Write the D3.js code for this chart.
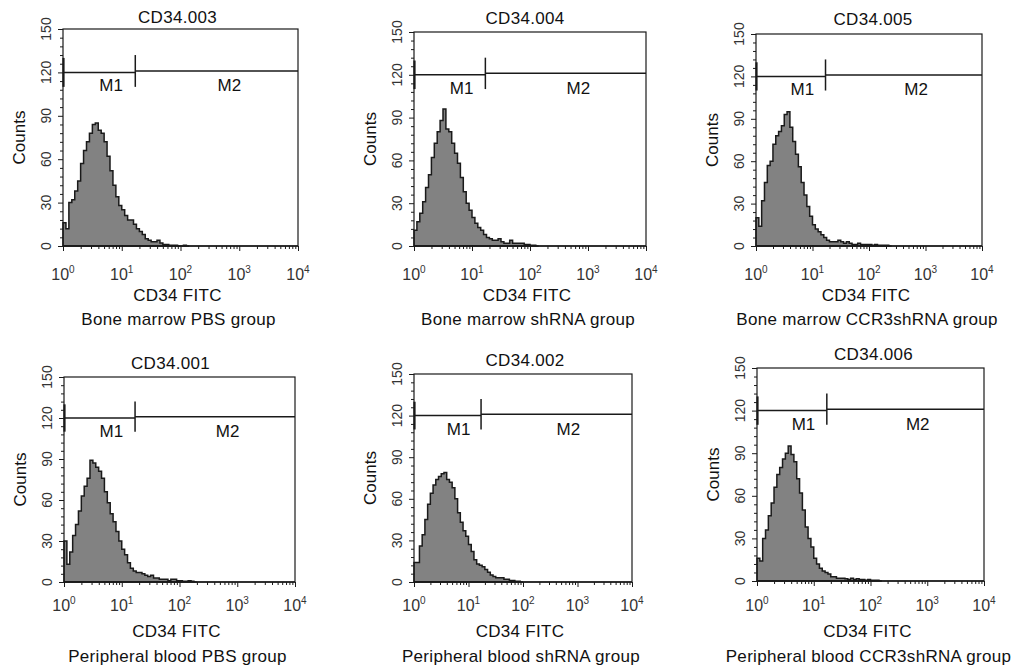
<!DOCTYPE html>
<html>
<head>
<meta charset="utf-8">
<script src="https://cdn.jsdelivr.net/npm/d3@7"></script>
<style>
  html, body { margin: 0; padding: 0; background: #fff; }
  svg { display: block; }
  text { font-family: "Liberation Sans", Arial, sans-serif; fill: #111; }
</style>
</head>
<body>
<svg id="chart" width="1023" height="668"></svg>
<script>
// ---------- DATA ----------
const panelTitles = ["CD34.003", "CD34.004", "CD34.005", "CD34.001", "CD34.002", "CD34.006"];
const panelCaptions = [
  "Bone marrow PBS group", "Bone marrow shRNA group", "Bone marrow CCR3shRNA group",
  "Peripheral blood PBS group", "Peripheral blood shRNA group", "Peripheral blood CCR3shRNA group"
];
const xAxisLabel = "CD34 FITC";
const yAxisLabel = "Counts";
const yTickLabels = [0, 30, 60, 90, 120, 150];
const xTickExponents = [0, 1, 2, 3, 4];
const markerNames = ["M1", "M2"];
const markerBoundary = 17;     // M1 | M2 split (fluorescence value)
const markerLevel = 120;       // counts level of M1 line
const markerLevel2 = 121;      // counts level of M2 line
const markerLabelX = [6.6, 680];
const binWidthDecades = 0.05;  // histogram bin width in log10 units, from 10^0

// counts per bin (bin i spans 10^(i*0.05) .. 10^((i+1)*0.05))
const countsBM_PBS = [16,12,30,32,38,45,57,66,72,78,84,85,80,78,72,62,52,42,34,28,25,21,18,18,15,12,10,8,5,4,3,3,4,2,1,1,0.5,0.5,0.5,0,0,0.5,0];
const countsBM_shRNA = [11,17,23,31,41,50,62,72,80,88,96,82,80,72,65,58,48,38,30,25,20,16,13,11,8,6,5,4,4,5,3,2,2,4,2,2,2,2,1,1,0.5,0.5,0];
const countsBM_CCR3 = [20,14,32,45,57,60,72,78,81,85,93,95,84,74,65,56,45,36,28,21,15,12,10,8,6,4,3,3,3,4,3,2,3,2,1,1,2,1,1,1,1,0.5,1,0.5,0.5,0.5,0.5,0];
const countsPB_PBS = [30,13,22,34,42,52,63,70,76,89,87,84,81,76,66,58,50,44,37,30,24,20,14,10,8,7,7,6,5,4,5,3,3,2,2,2,1,2,2,1,1,0.5,0.5,1,0.5,0];
const countsPB_shRNA = [14,14,26,34,45,56,64,70,74,76,78,79,74,72,68,60,50,43,37,33,27,22,16,13,12,11,9,7,5,4,3,3,3,2,2,1,1,0.5,0.5,0];
const countsPB_CCR3 = [16,14,30,36,46,55,66,75,80,86,90,95,89,84,72,62,50,38,30,24,16,12,9,7,6,5,3,3,2,2,2,1.5,1,2,1,1.5,1,1,0.5,1,0.5,0.5,0.5,0];
const panelCounts = [countsBM_PBS, countsBM_shRNA, countsBM_CCR3, countsPB_PBS, countsPB_shRNA, countsPB_CCR3];

// ---------- LAYOUT (pixel boxes of each plot) ----------
const layout = [
  {x0: 63,  x1: 298, y0: 29,  y1: 246, titleY: 23,  tickY: 280, labelY: 301, capY: 325, titleDx: -3},
  {x0: 414, x1: 646, y0: 32,  y1: 246, titleY: 24,  tickY: 280, labelY: 301, capY: 325, titleDx: -5},
  {x0: 756, x1: 982, y0: 34,  y1: 246, titleY: 25,  tickY: 280, labelY: 301, capY: 325, titleDx: 4},
  {x0: 64,  x1: 295, y0: 377, y1: 582, titleY: 369, tickY: 611, labelY: 637, capY: 662, titleDx: -9},
  {x0: 414, x1: 632, y0: 374, y1: 582, titleY: 366, tickY: 611, labelY: 637, capY: 662, titleDx: 2},
  {x0: 757, x1: 984, y0: 368, y1: 581, titleY: 360, tickY: 611, labelY: 637, capY: 662, titleDx: 3}
];

const svg = d3.select("#chart");
const ink = "#1a1a1a";

panelCounts.forEach((counts, p) => {
  const L = layout[p];
  const g = svg.append("g");
  const x = d3.scaleLog().domain([1, 1e4]).range([L.x0, L.x1]);
  const y = d3.scaleLinear().domain([0, 150]).range([L.y1, L.y0]);

  // histogram step path
  const pts = [[x(1), y(0)]];
  counts.forEach((c, i) => {
    const lo = Math.pow(10, i * binWidthDecades), hi = Math.pow(10, (i + 1) * binWidthDecades);
    pts.push([x(lo), y(c)], [x(hi), y(c)]);
  });
  const lastHi = Math.pow(10, counts.length * binWidthDecades);
  pts.push([x(lastHi), y(0)]);
  g.append("path")
    .attr("d", d3.line()(pts) + "Z")
    .attr("fill", "#828282")
    .attr("stroke", ink)
    .attr("stroke-width", 1.5)
    .attr("stroke-linejoin", "miter");

  // baseline heavier line
  g.append("line").attr("x1", x(1)).attr("x2", x(1e4)).attr("y1", y(0)).attr("y2", y(0))
    .attr("stroke", ink).attr("stroke-width", 1.7);

  // box
  g.append("rect").attr("x", L.x0).attr("y", L.y0)
    .attr("width", L.x1 - L.x0).attr("height", L.y1 - L.y0)
    .attr("fill", "none").attr("stroke", ink).attr("stroke-width", 1.2);

  // y axis ticks
  const yMinor = d3.range(0, 151, 6);
  const yAx = d3.axisLeft(y).tickValues(yMinor).tickFormat("")
    .tickSizeInner(3).tickSizeOuter(0);
  const ya = g.append("g").attr("transform", `translate(${L.x0},0)`).call(yAx);
  ya.select(".domain").remove();
  ya.selectAll(".tick line").attr("stroke", ink).attr("stroke-width", 1)
    .attr("x2", d => (d % 30 === 0 ? -5 : -3));
  yTickLabels.forEach(v => {
    g.append("text")
      .attr("transform", `translate(${L.x0 - 12},${y(v)}) rotate(-90)`)
      .attr("text-anchor", "middle").attr("font-size", 14).style("fill", "#333").text(v);
  });

  // x axis ticks (log)
  const xMinor = [];
  for (let e = 0; e < 4; e++) for (let k = 1; k < 10; k++) xMinor.push(k * Math.pow(10, e));
  xMinor.push(1e4);
  const xAx = d3.axisBottom(x).tickValues(xMinor).tickFormat("").tickSizeInner(3).tickSizeOuter(0);
  const xa = g.append("g").attr("transform", `translate(0,${L.y1})`).call(xAx);
  xa.select(".domain").remove();
  xa.selectAll(".tick line").attr("stroke", ink).attr("stroke-width", 1)
    .attr("y2", d => (Math.abs(Math.log10(d) - Math.round(Math.log10(d))) < 1e-9 ? 5 : 3));
  xTickExponents.forEach(e => {
    const t = g.append("text").attr("x", x(Math.pow(10, e))).attr("y", L.tickY)
      .attr("text-anchor", "middle").attr("font-size", 16).style("fill", "#333");
    t.append("tspan").text("10");
    t.append("tspan").attr("dy", -7).attr("font-size", 10).text(e);
  });

  // markers
  const mk = g.append("g").attr("stroke", ink).attr("stroke-width", 1.5);
  mk.append("line").attr("x1", x(1)).attr("x2", x(markerBoundary))
    .attr("y1", y(markerLevel)).attr("y2", y(markerLevel));
  mk.append("line").attr("x1", x(markerBoundary)).attr("x2", x(1e4))
    .attr("y1", y(markerLevel2)).attr("y2", y(markerLevel2));
  mk.append("line").attr("x1", x(1) + 0.5).attr("x2", x(1) + 0.5)
    .attr("y1", y(130)).attr("y2", y(110)).attr("stroke-width", 2.2);
  mk.append("line").attr("x1", x(markerBoundary)).attr("x2", x(markerBoundary))
    .attr("y1", y(132)).attr("y2", y(110));
  markerNames.forEach((n, i) => {
    g.append("text").attr("x", x(markerLabelX[i])).attr("y", y(markerLevel) + 19)
      .attr("text-anchor", "middle").attr("font-size", 17).text(n);
  });

  const cx = (L.x0 + L.x1) / 2;
  // title
  g.append("text").attr("x", cx + L.titleDx).attr("y", L.titleY)
    .attr("text-anchor", "middle").attr("font-size", 17).attr("letter-spacing", 0.3).text(panelTitles[p]);
  // y label
  g.append("text")
    .attr("transform", `translate(${L.x0 - 38},${(L.y0 + L.y1) / 2}) rotate(-90)`)
    .attr("text-anchor", "middle").attr("font-size", 17).text(yAxisLabel);
  // x label
  g.append("text").attr("x", cx - 3).attr("y", L.labelY)
    .attr("text-anchor", "middle").attr("font-size", 17).attr("letter-spacing", 0.3).text(xAxisLabel);
  // caption
  g.append("text").attr("x", cx - 2).attr("y", L.capY)
    .attr("text-anchor", "middle").attr("font-size", 17).attr("letter-spacing", 0.3).text(panelCaptions[p]);
});
</script>
</body>
</html>
